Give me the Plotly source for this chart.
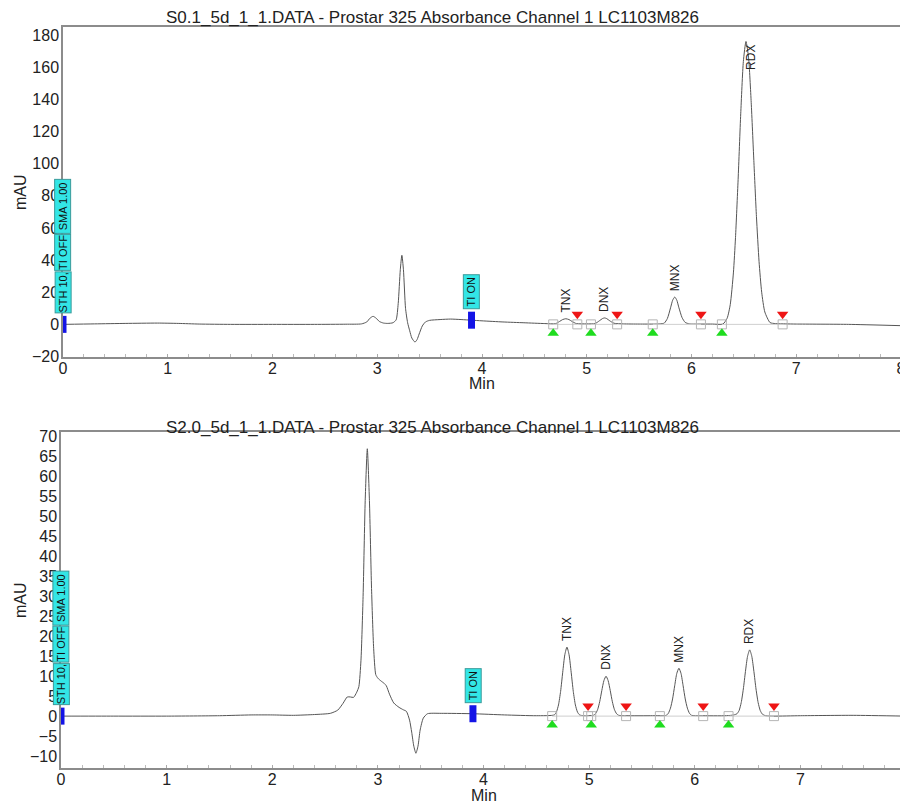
import numpy as np
import plotly.graph_objects as go

# ---------------- data ----------------
titles = [
    "S0.1_5d_1_1.DATA - Prostar 325 Absorbance Channel 1 LC1103M826",
    "S2.0_5d_1_1.DATA - Prostar 325 Absorbance Channel 1 LC1103M826",
]

# top chromatogram (S0.1): time (min) / absorbance (mAU)
top_time = [0.0, 0.3, 0.6, 0.9, 1.1, 1.3, 1.6, 2.0, 2.4, 2.7, 2.85, 2.9, 2.93, 2.96, 2.99, 3.02,
            3.06, 3.1, 3.15, 3.18, 3.2, 3.22, 3.235, 3.25, 3.27, 3.29, 3.31, 3.33, 3.36, 3.38,
            3.4, 3.43, 3.46, 3.5, 3.6, 3.7, 3.8, 3.9, 4.0, 4.2, 4.4, 4.6, 4.7, 4.74, 4.77, 4.8,
            4.83, 4.86, 4.9, 5.0, 5.08, 5.12, 5.15, 5.17, 5.19, 5.22, 5.26, 5.35, 5.5, 5.65, 5.7,
            5.74, 5.77, 5.8, 5.82, 5.84, 5.86, 5.88, 5.91, 5.94, 5.98, 6.02, 6.1, 6.2, 6.3, 6.34,
            6.37, 6.4, 6.42, 6.445, 6.47, 6.495, 6.52, 6.545, 6.57, 6.595, 6.62, 6.645, 6.67, 6.7,
            6.75, 6.8, 6.9, 7.0, 7.5, 8.0]
top_mau = [0.0, 0.3, 0.6, 0.8, 0.6, 0.2, 0.0, 0.0, 0.0, 0.1, 0.3, 1.5, 3.8, 5.0, 3.8, 1.8,
           0.8, 0.6, 1.0, 2.8, 12.9, 34.0, 43.0, 34.0, 10.0, 1.0, -4.0, -8.5, -11.0, -9.5,
           -6.0, -1.0, 1.5, 2.5, 3.0, 3.3, 3.0, 2.6, 2.2, 1.5, 1.0, 0.5, 0.4, 1.8, 3.0, 3.5,
           3.0, 1.8, 0.5, 0.3, 0.5, 2.2, 3.6, 4.0, 3.6, 2.2, 0.7, 0.3, 0.2, 0.2, 0.3,
           0.8, 3.7, 10.3, 15.0, 17.0, 15.0, 10.3, 4.2, 1.2, 0.3, 0.2, 0.2, 0.2, 0.2, 3.8,
           12.3, 32.0, 54.0, 90.0, 131.0, 163.5, 176.0, 165.8, 138.0, 102.0, 67.0, 39.0, 20.0, 7.7,
           1.1, 0.5, 0.3, 0.2, 0.0, -0.8]

# bottom chromatogram (S2.0)
bot_time = [0.0, 0.5, 1.0, 1.5, 1.8, 2.0, 2.2, 2.4, 2.55, 2.62, 2.67, 2.71, 2.74, 2.77, 2.8,
            2.82, 2.84, 2.86, 2.88, 2.9, 2.92, 2.94, 2.96, 2.98, 3.0, 3.03, 3.06, 3.08, 3.11,
            3.15, 3.2, 3.24, 3.27, 3.3, 3.32, 3.34, 3.36, 3.38, 3.4, 3.43, 3.47, 3.6, 3.9, 4.2,
            4.5, 4.67, 4.69, 4.71, 4.73, 4.75, 4.77, 4.79, 4.81, 4.83, 4.85, 4.87, 4.89, 4.91,
            4.95, 5.04, 5.06, 5.08, 5.1, 5.12, 5.14, 5.16, 5.18, 5.2, 5.22, 5.24, 5.26, 5.28,
            5.35, 5.6, 5.73, 5.75, 5.77, 5.79, 5.81, 5.83, 5.85, 5.87, 5.89, 5.91, 5.93, 5.95,
            5.97, 6.05, 6.3, 6.37, 6.4, 6.42, 6.44, 6.46, 6.48, 6.5, 6.52, 6.54, 6.56, 6.58,
            6.6, 6.62, 6.64, 6.67, 6.75, 7.0, 7.5, 8.0]
bot_mau = [0.0, 0.0, 0.0, 0.1, 0.3, 0.3, 0.2, 0.4, 0.7, 1.5, 3.2, 4.8, 4.8, 4.7, 6.0,
           7.4, 14.0, 30.0, 54.0, 67.0, 54.0, 32.0, 17.0, 10.4, 9.5, 8.8, 8.2, 7.6, 5.5,
           3.3, 2.2, 1.6, 1.2, -1.0, -4.0, -7.5, -9.3, -7.5, -3.5, -0.5, 0.6, 0.7, 0.6, 0.3,
           0.1, 0.3, 1.0, 2.8, 6.2, 11.0, 15.4, 17.3, 15.4, 11.0, 6.2, 2.8, 1.0, 0.3,
           0.1, 0.2, 0.6, 1.6, 3.6, 6.4, 8.9, 10.0, 8.9, 6.4, 3.6, 1.6, 0.6, 0.2,
           0.1, 0.1, 0.2, 0.7, 2.0, 4.3, 7.6, 10.7, 12.0, 10.7, 7.6, 4.3, 2.0, 0.7,
           0.2, 0.1, 0.1, 0.3, 0.6, 1.4, 3.4, 6.8, 11.2, 15.0, 16.6, 15.0, 11.2, 6.8,
           3.4, 1.4, 0.5, 0.1, 0.0, 0.1, 0.2, 0.0]

peak_names = ["TNX", "DNX", "MNX", "RDX"]
top_apex_time = [4.80, 5.17, 5.84, 6.52]
top_apex_mau = [3.5, 4.0, 17.0, 176.0]
top_start = [4.68, 5.04, 5.63, 6.29]
top_end = [4.91, 5.29, 6.09, 6.87]
bot_apex_time = [4.79, 5.16, 5.85, 6.52]
bot_apex_mau = [17.3, 10.0, 12.0, 16.6]
bot_start = [4.65, 5.02, 5.67, 6.32]
bot_end = [4.99, 5.35, 6.08, 6.75]

event_times = [0.0, 3.9]
event_labels = [["STH 10,", "TI OFF", "SMA 1.00"], ["TI ON"]]

x_ticks = list(range(0, 9))
top_yticks = list(range(-20, 181, 20))
bot_yticks = list(range(-10, 71, 5))

# ---------------- style / geometry ----------------
# the page body keeps its default 8px margin, so the figure starts at page (8, 8)
PAGE_W, PAGE_H, OFF = 908, 804, 8
W, H = PAGE_W - OFF, PAGE_H - OFF
FONT = "Liberation Sans, Arial, sans-serif"


def px_x(p):
    return (p - OFF) / W


def px_y(p):
    return 1 - (p - OFF) / H


panels = [
    dict(px_left=63, px_right=901, px_top=27, px_bottom=357, yrange=[-20.3, 185.0],
         yticks=top_yticks, t=top_time, v=top_mau, at=top_apex_time, av=top_apex_mau,
         st=top_start, en=top_end, title=titles[0], title_y=17, xtitle_y=383),
    dict(px_left=61, px_right=906, px_top=432, px_bottom=768, yrange=[-13.0, 71.2],
         yticks=bot_yticks, t=bot_time, v=bot_mau, at=bot_apex_time, av=bot_apex_mau,
         st=bot_start, en=bot_end, title=titles[1], title_y=428, xtitle_y=795),
]
seg_len = {"STH 10,": 42, "TI OFF": 37, "SMA 1.00": 55, "TI ON": 35}
seg_start = 11

fig = go.Figure()
layout = dict(width=W, height=H, margin=dict(l=0, r=0, t=0, b=0, autoexpand=False),
              paper_bgcolor="white", plot_bgcolor="white", showlegend=False,
              font=dict(family=FONT, color="#222"))
annotations = []
shapes = []

for i, p in enumerate(panels):
    sfx = "" if i == 0 else "2"
    xa, ya = "x" + sfx, "y" + sfx
    xdom = [px_x(p["px_left"]), px_x(p["px_right"])]
    ydom = [px_y(p["px_bottom"]), px_y(p["px_top"])]
    layout["xaxis" + sfx] = dict(
        domain=xdom, range=[0, 8], anchor=ya, tickvals=x_ticks, ticks="inside", ticklen=3,
        tickcolor="#aaa", showline=True, linecolor="#8c8c8c", linewidth=1.5, mirror=True,
        showgrid=False, zeroline=False, automargin=False, ticklabelstandoff=-4,
        tickfont=dict(size=16, color="#222", family=FONT),
        minor=dict(dtick=0.2, ticks="inside", ticklen=3, tickcolor="#bbb"))
    layout["yaxis" + sfx] = dict(
        domain=ydom, range=p["yrange"], anchor=xa, tickvals=p["yticks"], ticks="",
        showline=True, linecolor="#8c8c8c", linewidth=1.5, mirror=True, showgrid=False,
        zeroline=False, automargin=False, ticklabelstandoff=-1,
        tickfont=dict(size=16, color="#222", family=FONT))

    px_per_unit = (p["px_bottom"] - p["px_top"]) / (p["yrange"][1] - p["yrange"][0])

    # chromatogram trace
    fig.add_trace(go.Scatter(x=p["t"], y=p["v"], xaxis=xa, yaxis=ya, mode="lines",
                             line=dict(color="#555", width=1, shape="spline", smoothing=0.6),
                             hoverinfo="skip"))
    # integration baselines
    bx, by = [], []
    for s, e in zip(p["st"], p["en"]):
        bx += [s, e, None]
        by += [0, 0, None]
    fig.add_trace(go.Scatter(x=bx, y=by, xaxis=xa, yaxis=ya, mode="lines",
                             line=dict(color="#cfcfcf", width=1), hoverinfo="skip"))
    # start / end squares
    fig.add_trace(go.Scatter(x=p["st"] + p["en"], y=[0] * (2 * len(p["st"])), xaxis=xa, yaxis=ya,
                             mode="markers",
                             marker=dict(symbol="square-open", size=9, color="#b5b5b5",
                                         line=dict(width=1, color="#b5b5b5")),
                             hoverinfo="skip"))
    # start (green) / end (red) triangles
    fig.add_trace(go.Scatter(x=p["st"], y=[-9 / px_per_unit] * len(p["st"]), xaxis=xa, yaxis=ya,
                             mode="markers",
                             marker=dict(symbol="triangle-up", size=10, color="#1fdc1f"),
                             hoverinfo="skip"))
    fig.add_trace(go.Scatter(x=p["en"], y=[10 / px_per_unit] * len(p["en"]), xaxis=xa, yaxis=ya,
                             mode="markers",
                             marker=dict(symbol="triangle-down", size=10, color="#ee1515"),
                             hoverinfo="skip"))

    # peak labels
    for name, t, v in zip(peak_names, p["at"], p["av"]):
        apex_px_from_top = (p["yrange"][1] - v) * px_per_unit
        if apex_px_from_top < 30:
            annotations.append(dict(x=t, y=v, xref=xa, yref=ya, text=name, textangle=-90,
                                    showarrow=False, xanchor="center", yanchor="top",
                                    xshift=5, yshift=-1, font=dict(size=12, color="#222")))
        else:
            annotations.append(dict(x=t, y=v, xref=xa, yref=ya, text=name, textangle=-90,
                                    showarrow=False, xanchor="center", yanchor="bottom",
                                    yshift=4, font=dict(size=12, color="#222")))

    # timed events: blue markers with cyan labels
    for et, labels in zip(event_times, event_labels):
        ev = float(np.interp(et, p["t"], p["v"]))
        shapes.append(dict(type="rect", xref=xa, yref=ya, xsizemode="pixel", ysizemode="pixel",
                           xanchor=et, yanchor=ev, x0=-3.5, x1=3.5, y0=-8.5, y1=8.5,
                           fillcolor="#1414e6", line=dict(width=0)))
        off = seg_start
        for lab in labels:
            L = seg_len[lab]
            annotations.append(dict(x=et, y=ev, xref=xa, yref=ya, text=lab, textangle=-90,
                                    showarrow=False, xanchor="center", yanchor="bottom",
                                    yshift=off, width=L - 2, height=15, borderpad=0,
                                    borderwidth=1, bordercolor="#3a9a9a", bgcolor="#33e6e6",
                                    font=dict(size=11, color="#111")))
            off += L

    # titles
    annotations.append(dict(x=px_x(432), y=px_y(p["title_y"]), xref="paper", yref="paper",
                            text=p["title"], showarrow=False, xanchor="center", yanchor="middle",
                            font=dict(size=17, color="#222")))
    annotations.append(dict(x=px_x((p["px_left"] + p["px_right"]) / 2), y=px_y(p["xtitle_y"]),
                            xref="paper", yref="paper", text="Min", showarrow=False,
                            xanchor="center", yanchor="middle", font=dict(size=16, color="#222")))
    annotations.append(dict(x=px_x(20), y=px_y((p["px_top"] + p["px_bottom"]) / 2),
                            xref="paper", yref="paper", text="mAU", textangle=-90,
                            showarrow=False, xanchor="center", yanchor="middle",
                            font=dict(size=16, color="#222")))

layout["annotations"] = annotations
layout["shapes"] = shapes
fig.update_layout(**layout)
fig.write_html("out.html")
